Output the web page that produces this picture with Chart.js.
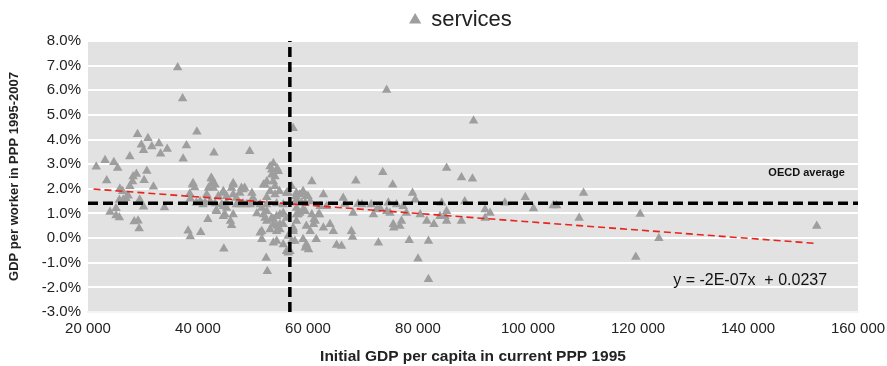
<!DOCTYPE html>
<html>
<head>
<meta charset="utf-8">
<script src="https://cdn.jsdelivr.net/npm/chart.js@4"></script>
<style>
  html, body { margin: 0; padding: 0; background: #fff; }
  #wrap { width: 887px; height: 366px; }
</style>
</head>
<body>
<div id="wrap"><canvas id="myChart" width="887" height="366"></canvas></div>
<script>
// initial GDP per capita 1995 (x) and growth of GDP per worker, % (y)
const gdp1995 = [
  36300, 37200, 39800, 57300, 29000, 30900, 29700, 31600, 32900, 34400,
  30100, 33200, 37900, 37300, 27600, 42900, 49400, 23100, 24700, 21500,
  25400, 53700, 53100, 54400, 23400, 28200, 28800, 30700, 30200, 42400,
  53400, 52500, 53700, 31900, 28100, 39000, 25800, 26300, 27600, 27300,
  26400, 25700, 26900, 29400, 30100, 33900, 38500, 38600, 25100, 24000,
  25100, 25700, 28400, 29100, 29300, 38200, 38600, 40500, 44700, 39400,
  41900, 42500, 43100, 41600, 40400, 41300, 42200, 43300, 41800, 44600,
  45200, 46400, 47000, 47900, 48500, 49800, 50000, 47600, 44600, 45200,
  46400, 44900, 45900, 46100, 48800, 49500, 51600, 52500, 50700, 51900,
  52200, 52500, 53700, 54900, 55500, 54300, 53100, 54900, 55500, 56100,
  51300, 51600, 53700, 54300, 55500, 56100, 56400, 52400, 52600, 57000,
  56400, 57800, 58200, 57300, 57600, 53400, 54600, 52200, 54000, 39100,
  42500, 42800, 46400, 46100, 48200, 47600, 44600, 46400, 43700, 54800,
  56100, 57900, 53100, 54000, 52500, 39700, 40900, 43100, 44300, 45200,
  47000, 48200, 50100, 51300, 54300, 55500, 57900, 43400, 44600, 52500,
  53400, 54300, 53700, 54900, 51600, 54300, 57300, 57900, 54000, 51900,
  60700, 58500, 59100, 59700, 57900, 59500, 60400, 62800, 62200, 61900,
  61300, 59700, 61000, 62800, 60400, 59100, 59700, 61500, 60100, 59500,
  56700, 57000, 56400, 57300, 68700, 75400, 73600, 85200, 87900, 89900,
  59100, 60000, 58800, 57900, 59100, 59500, 57900, 58500, 63400, 66400,
  66700, 68200, 69100, 69800, 60700, 62100, 61100, 64000, 64600, 67900,
  68100, 65200, 66100, 71500, 71900, 72500, 73100, 74600, 76100, 77300,
  74900, 75500, 75600, 77000, 76700, 72800, 78400, 80000, 81900, 81900,
  79000, 79500, 80400, 81600, 82900, 84300, 85200, 84900, 85200, 84000,
  87900, 88500, 92200, 93100, 92200, 95800, 74300, 90100, 99500, 101000,
  104600, 105200, 110100, 109300, 120400, 119600, 123800, 152500, 77900, 74300
];
const growth = [
  6.92, 5.67, 4.32, 4.46, 4.21, 4.05, 3.79, 3.72, 3.84, 3.62,
  3.57, 3.42, 3.76, 3.22, 3.31, 3.46, 3.52, 3.16, 3.08, 2.90,
  2.84, 3.04, 2.91, 2.82, 2.34, 2.50, 2.60, 2.72, 2.35, 2.44,
  2.57, 2.30, 2.30, 2.08, 2.30, 2.17, 2.00, 1.90, 2.10, 1.72,
  1.56, 1.55, 1.62, 1.56, 1.27, 1.24, 1.80, 1.60, 1.21, 1.06,
  0.92, 0.84, 0.67, 0.70, 0.39, 0.30, 0.06, 0.24, -0.43, 2.05,
  2.03, 2.41, 2.17, 1.77, 1.49, 1.43, 1.49, 1.12, 0.76, 1.83,
  1.70, 2.17, 1.63, 2.03, 2.03, 1.83, 1.63, 1.36, 1.29, 1.22,
  0.96, 0.96, 0.69, 0.52, 1.36, 1.36, 1.22, 1.36, 1.00, 0.96,
  0.82, 0.69, 0.76, 0.96, 1.02, 0.49, 0.35, 0.35, 0.56, 0.82,
  0.22, -0.05, -0.19, -0.12, -0.26, -0.53, -0.59, -0.81, -1.35, 2.10,
  1.83, 1.70, 0.96, 0.35, -0.12, 2.77, 2.71, 2.17, 2.10, 2.23,
  2.23, 2.03, 2.23, 2.03, 1.97, 1.83, 1.90, 1.77, 1.70, 1.90,
  1.83, 1.83, 1.90, 1.77, 1.66, 1.43, 1.36, 1.40, 1.36, 1.43,
  1.36, 1.40, 1.43, 1.36, 1.40, 1.36, 1.43, 1.09, 0.89, 1.09,
  0.82, 0.89, 0.56, 0.56, 0.28, 0.28, 0.42, 0.69, 2.50, 2.17,
  2.30, 1.77, 1.83, 1.70, 1.56, 1.43, 1.49, 1.77, 1.29, 0.96,
  0.69, 0.49, 0.56, 0.42, 0.28, -0.05, -0.26, -0.05, -0.46, -0.39,
  -0.53, -0.12, 0.08, 0.28, 2.33, 2.17, 2.67, 2.84, 2.46, 2.41,
  1.90, 1.70, 1.43, 1.22, 1.16, 1.09, 0.96, 1.02, 1.29, 1.63,
  1.38, 1.02, 1.38, 1.36, 0.96, 0.96, 0.76, 0.56, 0.28, 0.28,
  0.04, -0.28, -0.32, 1.36, 0.96, 1.16, 1.22, 1.43, 1.36, 1.29,
  1.02, 0.56, 0.42, 0.69, 0.49, -0.19, -0.09, -0.84, -0.12, -1.67,
  1.83, 1.56, 0.96, 0.69, 0.56, 1.43, 1.09, 0.89, 0.69, 0.89,
  0.69, 1.49, 1.16, 1.02, 0.82, 1.43, 6.01, 4.76, 1.66, 1.20,
  1.32, 1.32, 1.83, 0.82, 0.98, -0.77, -0.01, 0.49, 1.02, 1.09
];

// reference lines
const trendX = [21000, 152000];
const trendY = [1.99, -0.21];
const oecdAvg = 1.41;
const oecdGdp = 56700;

const xTicks = [20000, 40000, 60000, 80000, 100000, 120000, 140000, 160000];
const yTicks = [-3, -2, -1, 0, 1, 2, 3, 4, 5, 6, 7, 8];

const fontFam = "'Liberation Sans', Arial, sans-serif";

const points = gdp1995.map((g, i) => ({ x: g, y: growth[i] }));

// fondo gris del área del gráfico
const plotBg = {
  id: "plotBg",
  beforeDraw(chart) {
    const { ctx, chartArea: a } = chart;
    ctx.save();
    ctx.fillStyle = "#e2e2e2";
    ctx.fillRect(a.left, a.top, a.right - a.left, a.bottom - a.top);
    ctx.restore();
  },
};

// la leyenda va un poco a la derecha, como en el original
const legendShift = {
  id: "legendShift",
  afterLayout(chart) {
    if (chart.legend) {
      chart.legend.left += 32;
      chart.legend.right += 32;
    }
  },
};

// textos dentro del gráfico
const labels = {
  id: "labels",
  afterDatasetsDraw(chart) {
    const { ctx, scales } = chart;
    ctx.save();
    ctx.fillStyle = "#111";
    ctx.font = "bold 11px " + fontFam;
    ctx.textAlign = "right";
    ctx.textBaseline = "middle";
    ctx.fillText("OECD average", scales.x.getPixelForValue(157600), scales.y.getPixelForValue(2.63));
    ctx.font = "16px " + fontFam;
    ctx.textAlign = "left";
    ctx.fillText("y = -2E-07x  + 0.0237", scales.x.getPixelForValue(126400), scales.y.getPixelForValue(-1.74));
    ctx.restore();
  },
};

const ctx = document.getElementById("myChart").getContext("2d");
new Chart(ctx, {
  type: "scatter",
  data: {
    datasets: [
      {
        label: "services",
        data: points,
        pointStyle: "triangle",
        pointRadius: 5.5,
        backgroundColor: "#9e9e9e",
        borderColor: "#9e9e9e",
        borderWidth: 0,
        order: 5,
      },
      {
        label: "trend",
        type: "line",
        data: trendX.map((x, i) => ({ x: x, y: trendY[i] })),
        borderColor: "#e8241c",
        borderWidth: 1.6,
        borderDash: [7, 4],
        pointRadius: 0,
        order: 2,
      },
      {
        label: "oecd",
        type: "line",
        data: [{ x: 20000, y: oecdAvg }, { x: 160000, y: oecdAvg }],
        borderColor: "#000",
        borderWidth: 3.5,
        borderDash: [10, 5],
        pointRadius: 0,
        order: 1,
      },
      {
        label: "oecdGdp",
        type: "line",
        data: [{ x: oecdGdp, y: -3 }, { x: oecdGdp, y: 8 }],
        borderColor: "#000",
        borderWidth: 3.5,
        borderDash: [10, 5],
        pointRadius: 0,
        order: 0,
      },
    ],
  },
  options: {
    responsive: false,
    animation: false,
    layout: { padding: { left: 0, right: 29, top: 1, bottom: 0 } },
    plugins: {
      tooltip: { enabled: false },
      legend: {
        display: true,
        position: "top",
        labels: {
          filter: (item) => item.text === "services",
          usePointStyle: true,
          pointStyle: "triangle",
          boxWidth: 10,
          boxHeight: 10,
          padding: 8,
          color: "#222",
          font: { size: 22, family: fontFam },
        },
      },
    },
    scales: {
      x: {
        type: "linear",
        min: 20000,
        max: 160000,
        afterBuildTicks: (s) => { s.ticks = xTicks.map((v) => ({ value: v })); },
        afterFit: (s) => { s.height = 54; },
        grid: { display: false },
        border: { display: true, color: "#f4f4f4", width: 2 },
        ticks: {
          color: "#222",
          padding: 0,
          maxRotation: 0,
          font: { size: 15, family: fontFam },
          callback: (v) => String(v).replace(/\B(?=(\d{3})+(?!\d))/g, " "),
        },
        title: {
          display: true,
          text: "Initial GDP per capita in current PPP 1995",
          color: "#222",
          font: { size: 15.5, weight: "bold", family: fontFam },
          padding: { top: 8, bottom: 0 },
        },
      },
      y: {
        type: "linear",
        min: -3,
        max: 8,
        afterBuildTicks: (s) => { s.ticks = yTicks.map((v) => ({ value: v })); },
        afterFit: (s) => { s.width = 88; },
        grid: { color: "#ffffff", lineWidth: 2, drawTicks: false },
        border: { display: false },
        ticks: {
          color: "#222",
          padding: 7,
          font: { size: 15, family: fontFam },
          callback: (v) => v.toFixed(1) + "%",
        },
        title: {
          display: true,
          text: "GDP per worker in PPP 1995-2007",
          color: "#222",
          font: { size: 13, weight: "bold", family: fontFam },
          padding: { top: 7, bottom: 0 },
        },
      },
    },
  },
  plugins: [plotBg, legendShift, labels],
});
</script>
</body>
</html>
